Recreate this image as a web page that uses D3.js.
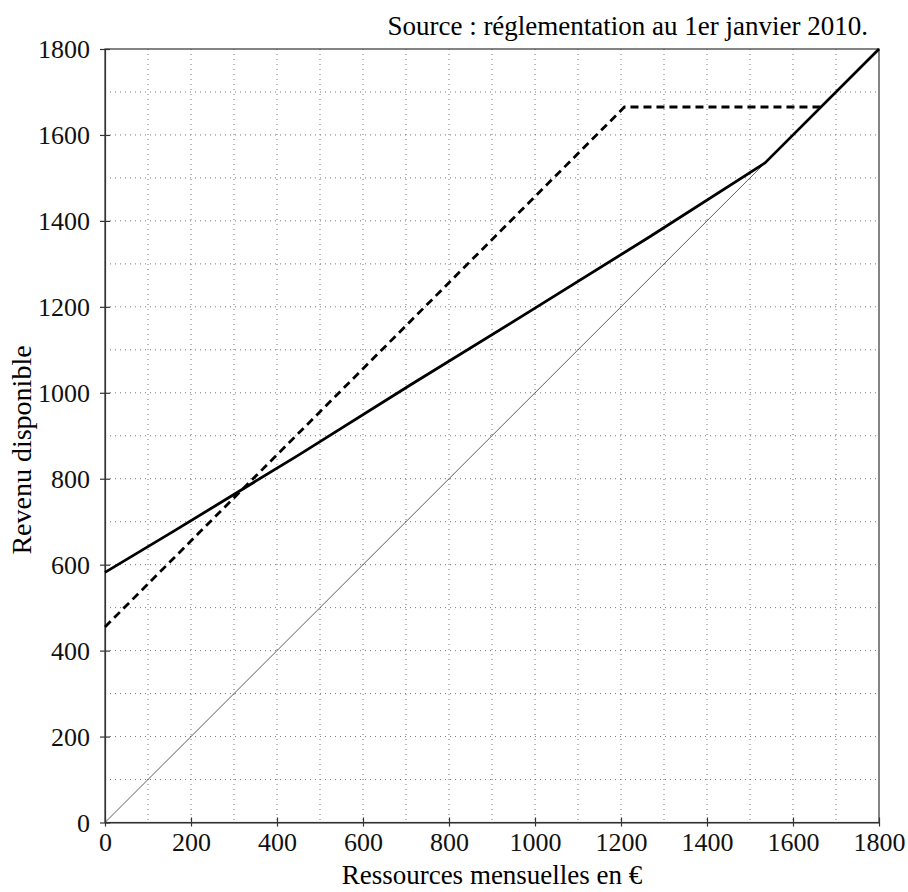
<!DOCTYPE html>
<html>
<head>
<meta charset="utf-8">
<script src="https://cdn.jsdelivr.net/npm/d3@7"></script>
<style>
  body { margin: 0; background: #fff; }
  svg { display: block; }
  .grid line { stroke: #777; stroke-width: 1; stroke-dasharray: 1,4; }
  .axis path, .axis line { stroke: #333; stroke-width: 1.2; }
  .axis text { font-family: "Liberation Serif", serif; font-size: 26px; fill: #111; }
</style>
</head>
<body>
<script>
// tick values
var xTicks = [0, 200, 400, 600, 800, 1000, 1200, 1400, 1600, 1800];
var yTicks = [0, 200, 400, 600, 800, 1000, 1200, 1400, 1600, 1800];
var gridValues = [100, 200, 300, 400, 500, 600, 700, 800, 900, 1000, 1100, 1200, 1300, 1400, 1500, 1600, 1700];

// revenu disponible (solid line)
var ressources = [0, 160, 450, 710, 1000, 1265, 1535, 1800];
var revenu = [582, 678, 855, 1018, 1197, 1362, 1535, 1800];

// dashed line
var ressourcesB = [0, 1208, 1665];
var revenuB = [455, 1665, 1665];

// reference line revenu = ressources
var refX = [0, 1535];
var refY = [0, 1535];

var W = 908, H = 892;
var margin = {left: 105, top: 49};
var width = 774, height = 773.5;

var svg = d3.select("body").append("svg")
    .attr("width", W)
    .attr("height", H);

var g = svg.append("g")
    .attr("transform", "translate(" + margin.left + "," + margin.top + ")");

var x = d3.scaleLinear().domain([0, 1800]).range([0, width]);
var y = d3.scaleLinear().domain([0, 1800]).range([height, 0]);

// grid
var grid = g.append("g").attr("class", "grid");
grid.selectAll(".gx")
    .data(gridValues)
    .enter().append("line")
    .attr("x1", function (d) { return x(d); })
    .attr("x2", function (d) { return x(d); })
    .attr("y1", 0)
    .attr("y2", height);
grid.selectAll(".gy")
    .data(gridValues)
    .enter().append("line")
    .attr("y1", function (d) { return y(d); })
    .attr("y2", function (d) { return y(d); })
    .attr("x1", 0)
    .attr("x2", width);

// frame
g.append("rect")
    .attr("width", width)
    .attr("height", height)
    .attr("fill", "none")
    .attr("stroke", "#333")
    .attr("stroke-width", 1.2);

// axes
var fmt = d3.format("d");
var xAxis = g.append("g")
    .attr("class", "axis")
    .attr("transform", "translate(0," + height + ")")
    .call(d3.axisBottom(x).tickValues(xTicks).tickFormat(fmt).tickSizeOuter(0).tickSizeInner(4).tickPadding(6));
xAxis.selectAll(".tick line").attr("y1", -5);

var yAxis = g.append("g")
    .attr("class", "axis")
    .call(d3.axisLeft(y).tickValues(yTicks).tickFormat(fmt).tickSizeOuter(0).tickSizeInner(5).tickPadding(10));
yAxis.selectAll(".tick line").attr("x1", 5);
yAxis.selectAll(".tick text").attr("dy", "0.34em");

// lines
var line = d3.line()
    .x(function (d) { return x(d[0]); })
    .y(function (d) { return y(d[1]); });

g.append("path")
    .datum(d3.zip(refX, refY))
    .attr("d", line)
    .attr("fill", "none")
    .attr("stroke", "#333")
    .attr("stroke-width", 0.8);

g.append("path")
    .datum(d3.zip(ressourcesB, revenuB))
    .attr("d", line)
    .attr("fill", "none")
    .attr("stroke", "#000")
    .attr("stroke-width", 2.8)
    .attr("stroke-dasharray", "8,5");

g.append("path")
    .datum(d3.zip(ressources, revenu))
    .attr("d", line)
    .attr("fill", "none")
    .attr("stroke", "#000")
    .attr("stroke-width", 2.8)
    .attr("stroke-linejoin", "round");

// texts
svg.append("text")
    .attr("x", 868)
    .attr("y", 35)
    .attr("text-anchor", "end")
    .style("font-family", "Liberation Serif, serif")
    .style("font-size", "27px")
    .text("Source : réglementation au 1er janvier 2010.");

svg.append("text")
    .attr("x", margin.left + width / 2)
    .attr("y", 884)
    .attr("text-anchor", "middle")
    .style("font-family", "Liberation Serif, serif")
    .style("font-size", "27px")
    .text("Ressources mensuelles en €");

svg.append("text")
    .attr("transform", "translate(31," + 450 + ") rotate(-90)")
    .attr("text-anchor", "middle")
    .style("font-family", "Liberation Serif, serif")
    .style("font-size", "28px")
    .text("Revenu disponible");
</script>
</body>
</html>
